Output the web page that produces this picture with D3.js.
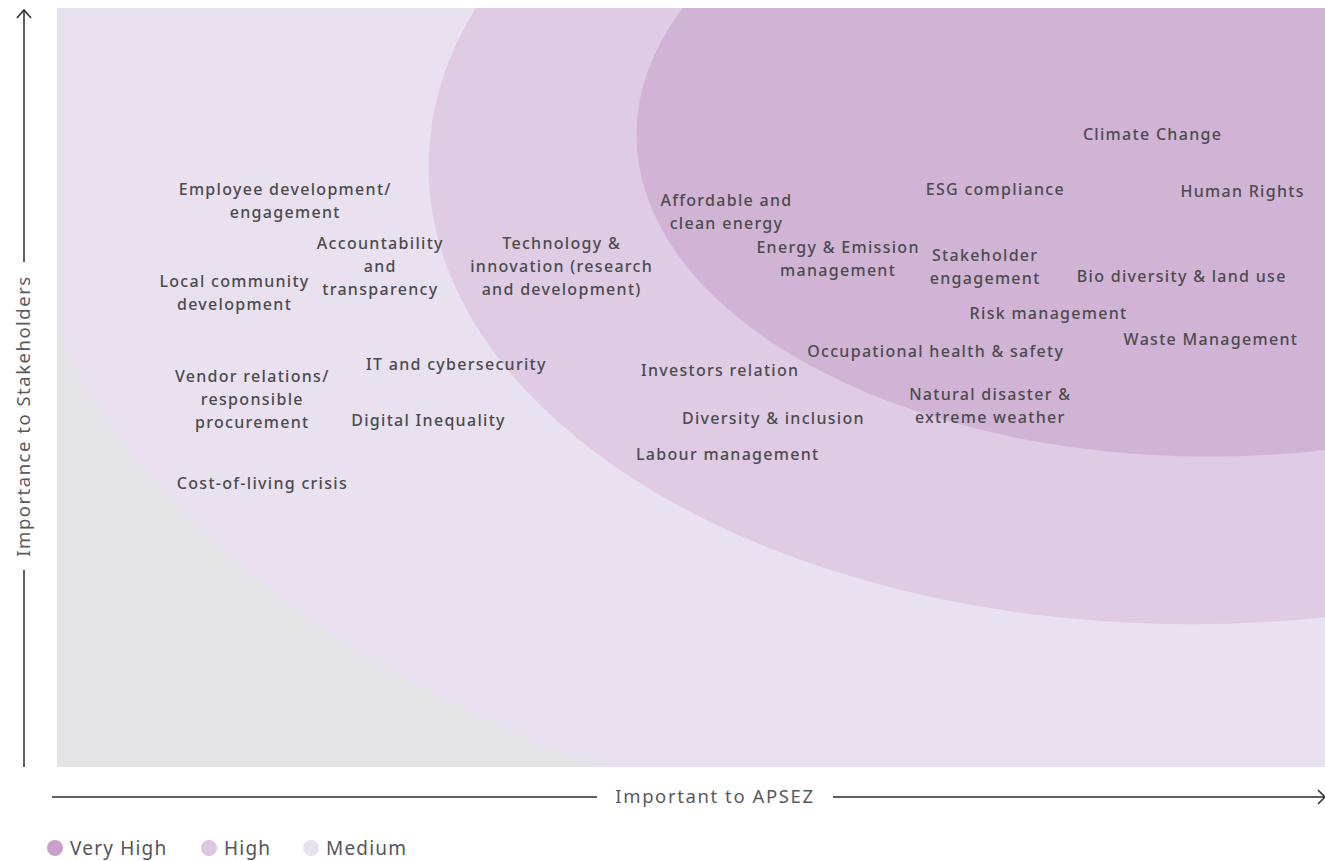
<!DOCTYPE html>
<html>
<head>
<meta charset="utf-8">
<script src="https://cdn.jsdelivr.net/npm/d3@7"></script>
<style>
  html, body { margin: 0; padding: 0; background: #ffffff; }
  svg { display: block; }
</style>
</head>
<body>
<svg id="chart" width="1325" height="861"></svg>
<script>
// ---- data (scores on 0-100 scales) ----
const topics = [
  "Climate Change",
  "Human Rights",
  "ESG compliance",
  "Affordable and\nclean energy",
  "Energy & Emission\nmanagement",
  "Stakeholder\nengagement",
  "Bio diversity & land use",
  "Risk management",
  "Waste Management",
  "Occupational health & safety",
  "Investors relation",
  "Natural disaster &\nextreme weather",
  "Diversity & inclusion",
  "Labour management",
  "Technology &\ninnovation (research\nand development)",
  "Accountability\nand\ntransparency",
  "Employee development/\nengagement",
  "Local community\ndevelopment",
  "IT and cybersecurity",
  "Vendor relations/\nresponsible\nprocurement",
  "Digital Inequality",
  "Cost-of-living crisis"
];
const importanceToAPSEZ = [86.4, 93.5, 74.0, 52.8, 61.6, 73.2, 88.7, 78.2, 91.0, 69.3, 52.3, 73.6, 56.5, 52.9, 39.8, 25.5, 18.0, 14.0, 31.5, 15.4, 29.3, 16.2];
const importanceToStakeholders = [83.4, 75.9, 76.1, 73.1, 66.9, 65.9, 64.6, 59.8, 56.3, 54.8, 52.3, 47.6, 45.9, 41.2, 65.9, 65.9, 74.6, 62.5, 53.1, 48.4, 45.7, 37.3];

const levels = ["Very High", "High", "Medium"];
// zone ellipses in score units: centre x, centre y, radius x, radius y
const zoneCx = [90.9, 89.4, 90.1];
const zoneCy = [83.3, 79.1, 83.9];
const zoneRx = [45.2, 60.1, 93.7];
const zoneRy = [42.4, 60.3, 97.1];

const xAxisTitle = "Important to APSEZ";
const yAxisTitle = "Importance to Stakeholders";

// ---- layout ----
const svg = d3.select("#chart");
const plot = { left: 57, right: 1325, top: 8, bottom: 767 };
const x = d3.scaleLinear().domain([0, 100]).range([plot.left, plot.right]);
const y = d3.scaleLinear().domain([0, 100]).range([plot.bottom, plot.top]);

const zoneFill = { "Very High": "#d1b3d6", "High": "#dfcbe4", "Medium": "#e9e1ef" };
const legendFill = { "Very High": "#c9a0cb", "High": "#dcc6e1", "Medium": "#e9e1ef" };
const font = "'Noto Sans', sans-serif";

const defs = svg.append("defs");
defs.append("clipPath").attr("id", "plotClip")
  .append("rect")
  .attr("x", plot.left).attr("y", plot.top)
  .attr("width", plot.right - plot.left).attr("height", plot.bottom - plot.top);

const g = svg.append("g").attr("clip-path", "url(#plotClip)");
g.append("rect")
  .attr("x", plot.left).attr("y", plot.top)
  .attr("width", plot.right - plot.left).attr("height", plot.bottom - plot.top)
  .attr("fill", "#e5e5e8");

// draw zones from largest to smallest
const zoneIdx = d3.range(levels.length).reverse();
g.selectAll("ellipse.zone").data(zoneIdx).join("ellipse")
  .attr("class", "zone")
  .attr("cx", i => x(zoneCx[i]))
  .attr("cy", i => y(zoneCy[i]))
  .attr("rx", i => x(zoneRx[i]) - x(0))
  .attr("ry", i => y(0) - y(zoneRy[i]))
  .attr("fill", i => zoneFill[levels[i]]);

// topic labels
const lineH = 23;
const labels = svg.append("g")
  .attr("font-family", font)
  .attr("font-size", 16)
  .attr("font-weight", 500)
  .attr("letter-spacing", 1.3)
  .attr("fill", "#4b4b4d")
  .attr("text-anchor", "middle");

topics.forEach((t, i) => {
  const lines = t.split("\n");
  const cx = x(importanceToAPSEZ[i]);
  const cy = y(importanceToStakeholders[i]);
  const text = labels.append("text")
    .attr("x", cx)
    .attr("y", cy - (lines.length - 1) * lineH / 2);
  lines.forEach((ln, j) => {
    text.append("tspan")
      .attr("x", cx)
      .attr("dy", j === 0 ? "0.35em" : lineH)
      .text(ln);
  });
});

// ---- axes ----
const axisColor = "#2b2b2b";
const ax = svg.append("g").attr("stroke", axisColor).attr("stroke-width", 1.5).attr("fill", "none");
// vertical axis
const vx = 24;
ax.append("line").attr("x1", vx).attr("x2", vx).attr("y1", 10).attr("y2", 262);
ax.append("line").attr("x1", vx).attr("x2", vx).attr("y1", 570).attr("y2", plot.bottom);
ax.append("path").attr("d", `M${vx - 7},${18} L${vx},${10} L${vx + 7},${18}`);
// horizontal axis
const hy = 797;
ax.append("line").attr("x1", 52).attr("x2", 597).attr("y1", hy).attr("y2", hy);
ax.append("line").attr("x1", 833).attr("x2", 1324).attr("y1", hy).attr("y2", hy);
ax.append("path").attr("d", `M${1318},${hy - 7} L${1325},${hy} L${1318},${hy + 7}`);

svg.append("text")
  .attr("x", 715).attr("y", hy).attr("dy", "0.35em")
  .attr("text-anchor", "middle")
  .attr("font-family", font)
  .attr("font-size", 18.5)
  .attr("letter-spacing", 1.6)
  .attr("fill", "#5a5a5c")
  .text(xAxisTitle);

svg.append("text")
  .attr("transform", `translate(${vx},${416}) rotate(-90)`)
  .attr("dy", "0.35em")
  .attr("text-anchor", "middle")
  .attr("font-family", font)
  .attr("font-size", 18.5)
  .attr("letter-spacing", 1.5)
  .attr("fill", "#5a5a5c")
  .text(yAxisTitle);

// ---- legend ----
const legend = svg.append("g").attr("transform", "translate(55,848)");
const legendX = [0, 154, 256];
levels.forEach((lv, i) => {
  const gi = legend.append("g").attr("transform", `translate(${legendX[i]},0)`);
  gi.append("circle").attr("r", 8).attr("fill", legendFill[lv]);
  gi.append("text")
    .attr("x", 15).attr("dy", "0.35em")
    .attr("font-family", font)
    .attr("font-size", 19)
    .attr("letter-spacing", 1.2)
    .attr("fill", "#555557")
    .text(lv);
});
</script>
</body>
</html>
